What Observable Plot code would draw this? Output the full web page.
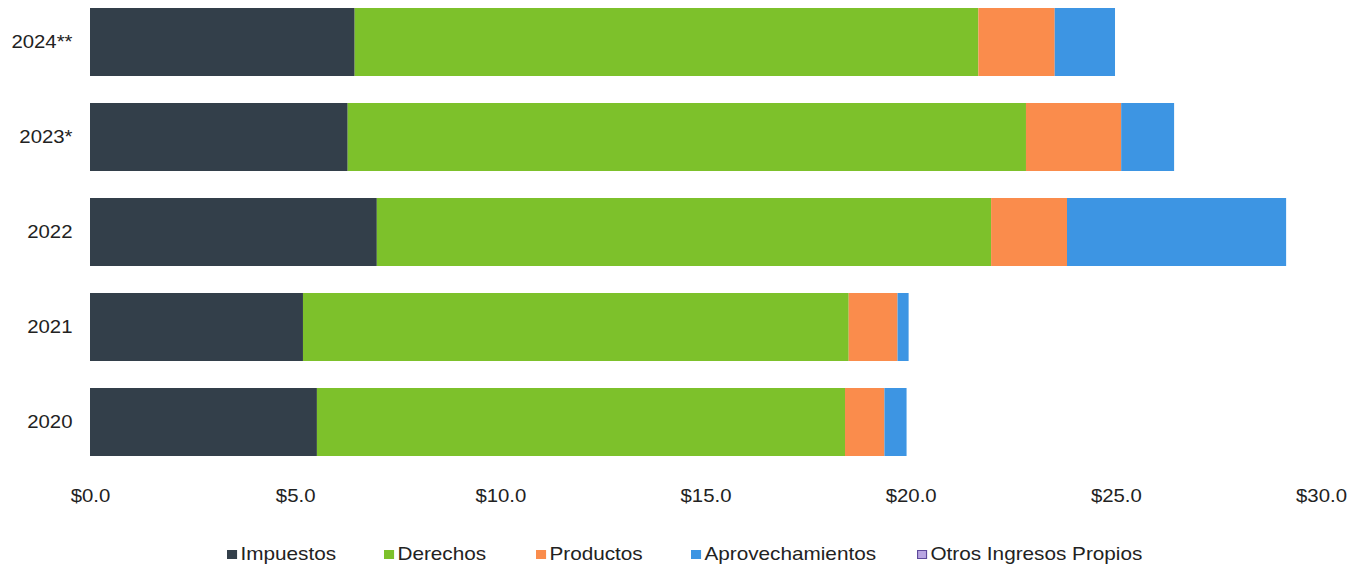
<!DOCTYPE html>
<html>
<head>
<meta charset="utf-8">
<script src="https://cdn.jsdelivr.net/npm/d3@7"></script>
<script src="https://cdn.jsdelivr.net/npm/@observablehq/plot@0.6"></script>
<style>
  html, body { margin: 0; padding: 0; background: #ffffff; }
  #wrap { position: relative; width: 1351px; height: 564px; overflow: hidden; font-family: "Liberation Sans", Arial, sans-serif; }
  .leg { position: absolute; top: 544px; height: 20px; line-height: 20px; font-size: 18.5px; color: #222; white-space: nowrap; transform-origin: 0 50%; transform: scaleX(1.12); }
  .sw { display: inline-block; width: 9px; height: 9px; margin-right: 3px; vertical-align: 1px; box-sizing: border-box; }
</style>
</head>
<body>
<div id="wrap"></div>
<script>
const years = ["2024**", "2023*", "2022", "2021", "2020"];
const series = ["Impuestos", "Derechos", "Productos", "Aprovechamientos", "Otros Ingresos Propios"];
const impuestos = [6.45, 6.28, 6.99, 5.19, 5.53];
const derechos = [15.20, 16.53, 14.97, 13.30, 12.87];
const productos = [1.86, 2.32, 1.85, 1.19, 0.96];
const aprovechamientos = [1.47, 1.29, 5.34, 0.27, 0.54];
const otros = [0, 0, 0, 0, 0];
const xTicks = [0, 5, 10, 15, 20, 25, 30];
const colors = ["#333f4a", "#7dc12b", "#fa8c4c", "#3d95e3", "#b9a6e2"];

const valuesBySeries = [impuestos, derechos, productos, aprovechamientos, otros];
const data = [];
years.forEach((y, i) => {
  series.forEach((s, j) => {
    data.push({year: y, series: s, value: valuesBySeries[j][i]});
  });
});

const chart = Plot.plot({
  width: 1351,
  height: 530,
  marginLeft: 90,
  marginRight: 30,
  marginTop: 3,
  marginBottom: 69,
  style: {fontFamily: "'Liberation Sans', Arial, sans-serif", fontSize: "18.5px", color: "#222", background: "#ffffff"},
  x: {domain: [0, 30], ticks: xTicks, tickFormat: d => "$" + d.toFixed(1), tickSize: 0, tickPadding: 27, label: null, line: false},
  y: {domain: years, paddingInner: 0.28, paddingOuter: 0.05, tickSize: 0, tickPadding: 18, label: null},
  color: {domain: series, range: colors},
  marks: [
    Plot.barX(data, Plot.stackX({y: "year", x: "value", fill: "series", order: series, inset: 0}))
  ]
});

chart.querySelectorAll('g[aria-label="x-axis tick label"] text, g[aria-label="y-axis tick label"] text').forEach(t => {
  const tr = t.getAttribute("transform") || "";
  t.setAttribute("transform", tr + " scale(1.1,1)");
});

const wrap = document.getElementById("wrap");
wrap.appendChild(chart);

const legPos = [227, 384, 536, 691, 917];
series.forEach((s, i) => {
  const item = document.createElement("div");
  item.className = "leg";
  item.style.left = legPos[i] + "px";
  const sw = document.createElement("span");
  sw.className = "sw";
  if (i === 4) {
    sw.style.background = colors[4];
    sw.style.border = "1.5px solid #5e4a9c";
  } else {
    sw.style.background = colors[i];
  }
  item.appendChild(sw);
  item.appendChild(document.createTextNode(s));
  wrap.appendChild(item);
});
</script>
</body>
</html>
